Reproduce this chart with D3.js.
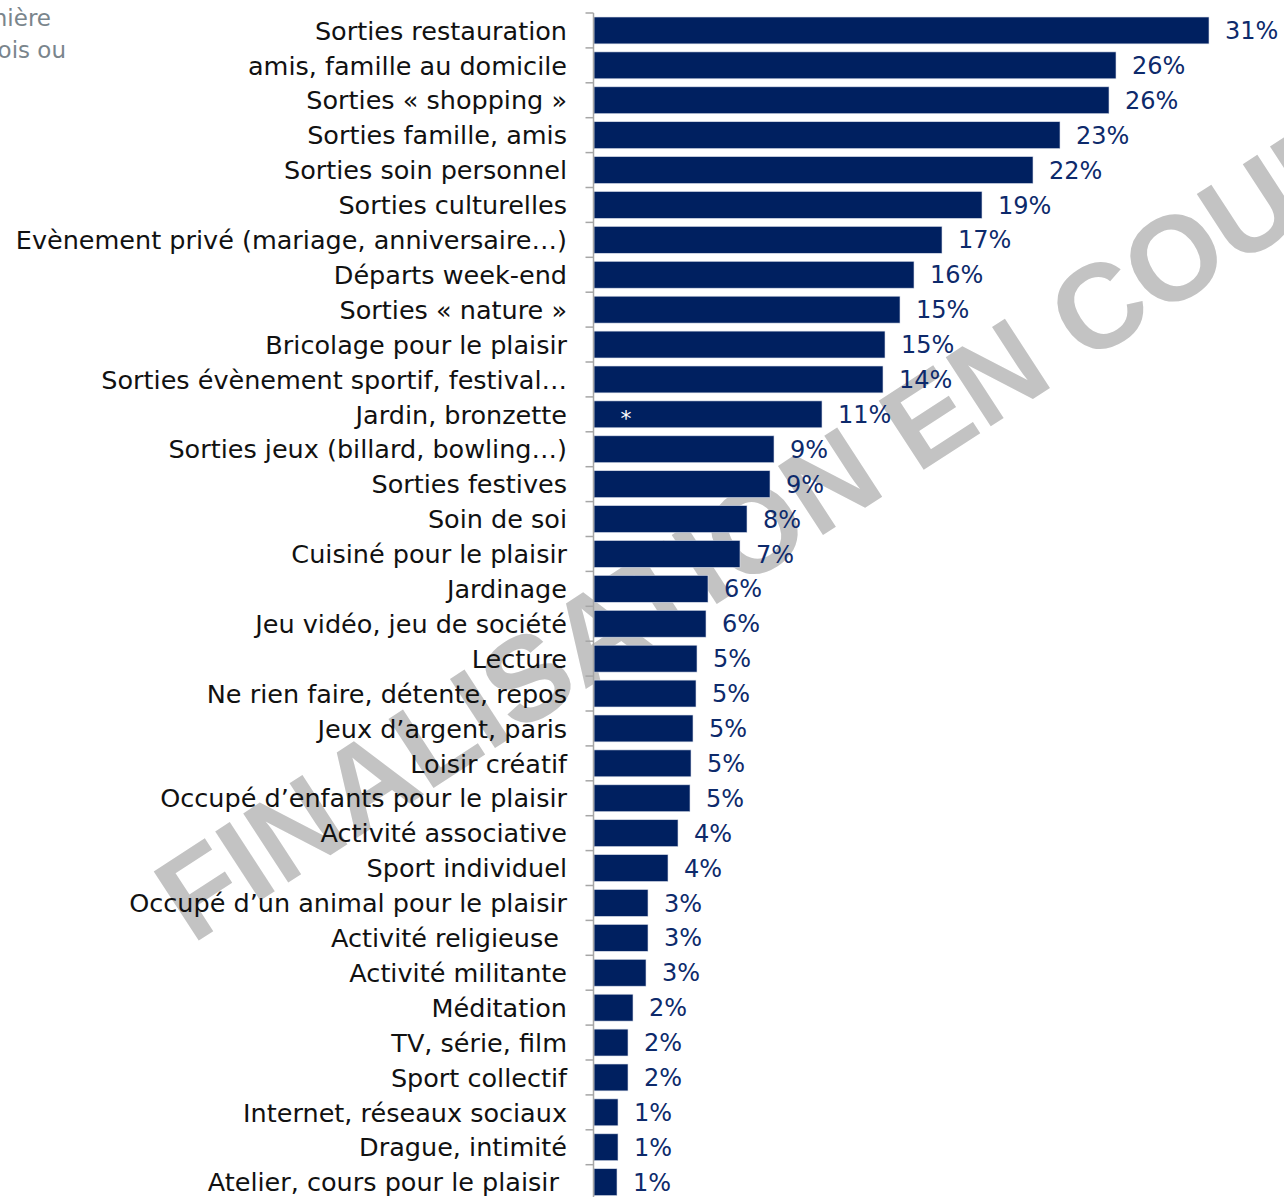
<!DOCTYPE html>
<html>
<head>
<meta charset="utf-8">
<script src="https://cdn.jsdelivr.net/npm/d3@7.9.0/dist/d3.min.js"></script>
<style>
  body { margin: 0; background: #fff; }
  svg { display: block; }
  text { white-space: pre; }
</style>
</head>
<body>
<svg width="1284" height="1197"></svg>
<script>
const categories = [
  "Sorties restauration",
  "amis, famille au domicile",
  "Sorties « shopping »",
  "Sorties famille, amis",
  "Sorties soin personnel",
  "Sorties culturelles",
  "Evènement privé (mariage, anniversaire…)",
  "Départs week-end",
  "Sorties « nature »",
  "Bricolage pour le plaisir",
  "Sorties évènement sportif, festival…",
  "Jardin, bronzette",
  "Sorties jeux (billard, bowling…)",
  "Sorties festives",
  "Soin de soi",
  "Cuisiné pour le plaisir",
  "Jardinage",
  "Jeu vidéo, jeu de société",
  "Lecture",
  "Ne rien faire, détente, repos",
  "Jeux d’argent, paris",
  "Loisir créatif",
  "Occupé d’enfants pour le plaisir",
  "Activité associative",
  "Sport individuel",
  "Occupé d’un animal pour le plaisir",
  "Activité religieuse ",
  "Activité militante",
  "Méditation",
  "TV, série, film",
  "Sport collectif",
  "Internet, réseaux sociaux",
  "Drague, intimité",
  "Atelier, cours pour le plaisir "
];

const values = [
  30.75, 26.1, 25.75, 23.3, 21.95, 19.4, 17.4, 16.0, 15.3, 14.55, 14.45,
  11.4, 9.0, 8.8, 7.65, 7.3, 5.7, 5.6, 5.15, 5.1, 4.95, 4.85, 4.8, 4.2,
  3.7, 2.7, 2.7, 2.6, 1.95, 1.7, 1.7, 1.2, 1.2, 1.15
];

// bars flagged with a small white asterisk
const starred = ["Jardin, bronzette"];

const introLines = ["manière", "fois ou"];
const watermark = "FINALISATION EN COURS";

const data = categories.map((c, i) => ({ name: c, value: values[i] }));

const svg = d3.select("svg");
const axisX = 593.5;

// watermark, drawn first so it sits behind everything
svg
  .append("text")
  .attr("transform", "translate(192,945) rotate(-33)")
  .attr("font-family", "Liberation Sans, Arial, sans-serif")
  .attr("font-weight", "bold")
  .attr("font-size", 120)
  .attr("fill", "#c3c3c3")
  .text(watermark);

// clipped intro text at top-left
svg
  .append("g")
  .attr("font-family", "DejaVu Sans, sans-serif")
  .attr("font-size", 23)
  .attr("fill", "#7a858c")
  .attr("text-anchor", "end")
  .selectAll("text")
  .data(introLines)
  .join("text")
  .attr("x", (d, i) => (i === 0 ? 51 : 66))
  .attr("y", (d, i) => 26 + i * 32)
  .text((d) => d);

const x = d3.scaleLinear().domain([0, 31]).range([axisX + 0.5, axisX + 0.5 + 620]);

const y = d3
  .scaleBand()
  .domain(categories)
  .range([13, 13 + 34 * 34.9])
  .paddingInner(0.23)
  .paddingOuter(0.115);

const gap = (y.step() - y.bandwidth()) / 2;

// bars
svg
  .append("g")
  .selectAll("rect")
  .data(data)
  .join("rect")
  .attr("x", x(0))
  .attr("y", (d) => y(d.name))
  .attr("width", (d) => x(d.value) - x(0))
  .attr("height", y.bandwidth())
  .attr("fill", "#002060")
  .attr("stroke", "#d9deea")
  .attr("stroke-width", 0.6);

// asterisk
svg
  .append("g")
  .selectAll("text")
  .data(data.filter((d) => starred.includes(d.name)))
  .join("text")
  .attr("x", x(0) + 32)
  .attr("y", (d) => y(d.name) + y.bandwidth() / 2 + 12)
  .attr("text-anchor", "middle")
  .attr("font-family", "DejaVu Sans, sans-serif")
  .attr("font-size", 22)
  .attr("fill", "#fff")
  .text("*");

// value labels
svg
  .append("g")
  .attr("font-family", "DejaVu Sans, sans-serif")
  .attr("font-size", 24)
  .attr("fill", "#0d2a6b")
  .selectAll("text")
  .data(data)
  .join("text")
  .attr("x", (d) => x(d.value) + 16)
  .attr("y", (d) => y(d.name) + y.bandwidth() / 2)
  .attr("dy", "0.36em")
  .text((d) => Math.round(d.value) + "%");

// category labels
svg
  .append("g")
  .attr("font-family", "DejaVu Sans, sans-serif")
  .attr("font-size", 25.5)
  .attr("fill", "#111")
  .attr("text-anchor", "end")
  .selectAll("text")
  .data(data)
  .join("text")
  .attr("x", 567)
  .attr("y", (d) => y(d.name) + y.bandwidth() / 2)
  .attr("dy", "0.36em")
  .text((d) => d.name);

// axis line with ticks between bands
const axis = svg.append("g").attr("stroke", "#a6a6a6").attr("stroke-width", 1.5);
axis
  .append("line")
  .attr("x1", axisX)
  .attr("x2", axisX)
  .attr("y1", y.range()[0])
  .attr("y2", y.range()[1]);
axis
  .selectAll(".tick")
  .data(categories)
  .join("line")
  .attr("class", "tick")
  .attr("x1", axisX - 8)
  .attr("x2", axisX)
  .attr("y1", (d) => y(d) - gap)
  .attr("y2", (d) => y(d) - gap);
</script>
</body>
</html>
